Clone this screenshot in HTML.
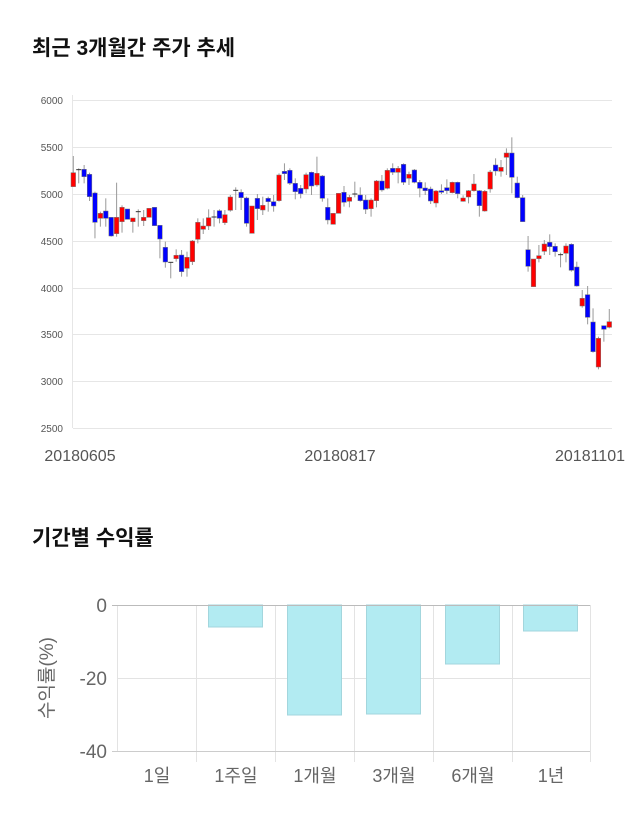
<!DOCTYPE html>
<html><head><meta charset="utf-8"><style>
body{margin:0;background:#fff;width:640px;height:810px;overflow:hidden;font-family:"Liberation Sans","Noto Sans CJK KR",sans-serif}
</style></head><body>
<svg id="s" width="640" height="810" xmlns="http://www.w3.org/2000/svg" font-family="Liberation Sans, Noto Sans CJK KR, sans-serif">
<text x="32" y="55" font-size="21" font-weight="bold" fill="#111">최근 3개월간 주가 추세</text>
<g stroke="#e6e6e6" stroke-width="1">
<line x1="73" x2="612" y1="100.5" y2="100.5"/><line x1="73" x2="612" y1="147.5" y2="147.5"/>
<line x1="73" x2="612" y1="194.5" y2="194.5"/><line x1="73" x2="612" y1="241.5" y2="241.5"/>
<line x1="73" x2="612" y1="288.5" y2="288.5"/><line x1="73" x2="612" y1="334.5" y2="334.5"/>
<line x1="73" x2="612" y1="381.5" y2="381.5"/><line x1="73" x2="612" y1="428.5" y2="428.5"/>
<line x1="72.5" x2="72.5" y1="95" y2="428"/>
</g>
<g font-size="10" fill="#555" text-anchor="end">
<text x="63" y="104">6000</text><text x="63" y="151">5500</text><text x="63" y="198">5000</text>
<text x="63" y="245">4500</text><text x="63" y="292">4000</text><text x="63" y="338">3500</text>
<text x="63" y="385">3000</text><text x="63" y="432">2500</text>
</g>
<g font-size="16" fill="#555" text-anchor="middle">
<text x="80" y="461">20180605</text><text x="340" y="461">20180817</text><text x="590" y="461">20181101</text>
</g>
<g id="c"></g>

<text x="32" y="545" font-size="21" font-weight="bold" fill="#111">기간별 수익률</text>
<g stroke="#e3e3e3" stroke-width="1">
<line x1="117" x2="590" y1="678.5" y2="678.5"/>
<line x1="117.5" x2="117.5" y1="605" y2="752"/>
<line x1="196.5" x2="196.5" y1="605" y2="762"/><line x1="275.5" x2="275.5" y1="605" y2="762"/>
<line x1="354.5" x2="354.5" y1="605" y2="762"/><line x1="433.5" x2="433.5" y1="605" y2="762"/>
<line x1="512.5" x2="512.5" y1="605" y2="762"/><line x1="590.5" x2="590.5" y1="605" y2="762"/>
</g>
<g fill="#b2ebf2" stroke="#a3d6dd" stroke-width="1">
<rect x="208.5" y="605" width="54" height="22"/>
<rect x="287.5" y="605" width="54" height="110"/>
<rect x="366.5" y="605" width="54" height="109"/>
<rect x="445.5" y="605" width="54" height="59"/>
<rect x="523.5" y="605" width="54" height="26"/>
</g>
<line x1="112" x2="590" y1="605.5" y2="605.5" stroke="#bbb"/>
<line x1="112" x2="590" y1="751.5" y2="751.5" stroke="#ccc"/>
<g font-size="19" fill="#666" text-anchor="end">
<text x="107" y="612">0</text><text x="107" y="685">-20</text><text x="107" y="758">-40</text>
</g>
<text transform="translate(53,678) rotate(-90)" font-size="19" fill="#666" text-anchor="middle">수익률(%)</text>
<g font-size="18" fill="#666" text-anchor="middle">
<text x="157" y="782">1일</text><text x="236" y="782">1주일</text><text x="315" y="782">1개월</text>
<text x="394" y="782">3개월</text><text x="473" y="782">6개월</text><text x="551" y="782">1년</text>
</g>
</svg>
<script>
// [top,bot,color(r/b/k),wtop,wbot] in zoom coords; first 49 zoom1 (y=130+v/3), rest zoom2
var A=[[128,170,'r',78,170],[119,121,'k',115,160],[118,140,'b',105,160],[133,200,'b',128,213],[189,277,'b',185,325],[250,265,'r',245,290],[243,265,'b',205,290],[262,318,'b',262,320],[262,311,'r',158,320],[232,275,'r',226,308],[237,268,'b',237,268],[264,275,'r',264,308],[245,247,'k',238,290],[262,272,'r',240,288],[235,262,'r',235,262],[232,287,'b',232,287],[286,327,'b',286,385],[352,396,'b',335,413],[397,399,'k',397,445],[376,386,'r',358,395],[375,425,'b',360,440],[382,415,'r',365,440],[333,395,'r',330,405],[277,328,'r',265,340],[288,298,'r',265,312],[263,288,'r',238,300],[261,263,'k',240,290],[242,265,'b',238,280],[254,278,'r',240,285],[201,241,'r',195,245],[181,183,'k',172,240],[187,203,'b',178,240],[204,280,'b',200,290],[228,310,'r',228,310],[205,236,'b',192,270],[226,240,'r',200,255],[205,215,'b',200,245],[215,228,'b',195,245],[135,212,'r',130,215],[124,131,'b',100,150],[121,160,'b',115,165],[160,185,'b',145,208],[175,191,'b',165,205],[134,177,'r',128,190],[127,168,'b',125,195],[130,165,'r',80,170],[138,205,'b',135,215],[232,270,'b',205,283],[250,283,'r',250,283]];
var B=[[190,250,'r',190,250],[187,217,'b',168,230],[202,214,'r',195,232],[192,194,'k',155,202],[195,212,'b',172,215],[210,238,'b',195,252],[210,236,'r',205,260],[153,212,'r',150,232],[153,180,'b',135,185],[121,175,'r',115,178],[115,127,'b',100,135],[115,127,'r',108,160],[103,157,'b',100,165],[133,145,'r',125,165],[120,157,'b',117,160],[157,175,'b',150,202],[174,182,'b',157,195],[177,213,'b',170,222],[183,219,'r',180,232],[182,187,'b',163,192],[173,182,'b',148,192],[157,188,'r',155,190],[157,191,'b',155,205],[204,214,'r',196,215],[182,201,'r',180,220],[162,182,'r',132,185],[182,227,'b',180,260],[184,243,'r',180,245],[126,177,'r',120,188],[105,123,'b',85,137],[112,124,'r',90,140],[69,82,'r',55,135],[69,142,'b',22,190],[159,203,'b',140,205],[203,275,'b',195,275],[359,409,'b',318,425],[387,470,'r',387,470],[377,386,'r',345,397],[342,364,'r',330,375],[337,350,'b',313,375],[349,365,'b',340,380],[374,376,'k',368,412],[348,370,'r',340,397],[343,421,'b',340,425],[411,468,'b',395,470],[505,528,'r',480,533],[494,562,'b',468,583],[576,665,'b',535,668],[625,711,'r',620,718],[587,598,'b',587,635],[575,592,'r',537,595]];
var all=A.concat(B),h='';
for(var i=0;i<all.length;i++){var d=all[i],x=73.3+i*5.414,y=function(v){return 130+v/3;};
var t=y(d[0]),b=y(d[1]),wt=y(d[3]),wb=y(d[4]);
h+='<line x1="'+x+'" x2="'+x+'" y1="'+wt+'" y2="'+wb+'" stroke="#999" stroke-width="1"/>';
if(d[2]=='k')h+='<line x1="'+(x-2.5)+'" x2="'+(x+2.5)+'" y1="'+t+'" y2="'+t+'" stroke="#333" stroke-width="1"/>';
else h+='<rect x="'+(x-2.3)+'" y="'+t+'" width="4.6" height="'+Math.max(b-t,1.5)+'" fill="'+(d[2]=='r'?'#f00':'#00f')+'" stroke="#777" stroke-width="0.5"/>';}
document.getElementById('c').innerHTML=h;
</script>
</body></html>
